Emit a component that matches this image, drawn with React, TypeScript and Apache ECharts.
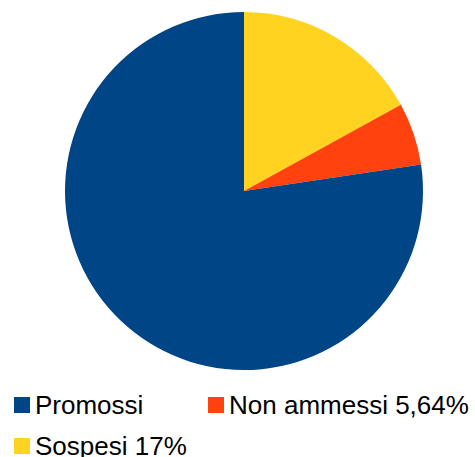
import React, { useEffect, useRef } from "react";
import * as echarts from "echarts";

const categories = ["Sospesi", "Non ammessi", "Promossi"];
const values = [17, 5.64, 77.36];
const legendLabels = ["Sospesi 17%", "Non ammessi 5,64%", "Promossi"];
const colors = ["#ffd320", "#ff420e", "#004586"];

export default function App() {
  const ref = useRef<HTMLDivElement>(null);
  useEffect(() => {
    document.body.style.margin = "0";
    if (!ref.current) return;
    const chart = echarts.init(ref.current, null, { renderer: "svg" });
    const labelMap: Record<string, string> = {};
    categories.forEach((c, i) => (labelMap[c] = legendLabels[i]));
    const legendBase = {
      orient: "horizontal" as const,
      itemWidth: 16,
      itemHeight: 16,
      icon: "rect",
      formatter: (n: string) => labelMap[n],
      textStyle: { fontFamily: "Liberation Sans", fontSize: 26, lineHeight: 26, color: "#000" },
      selectedMode: false,
      padding: 0,
    };
    chart.setOption({
      animation: false,
      color: colors,
      legend: [
        { ...legendBase, data: ["Promossi"], left: 14, top: 392 },
        { ...legendBase, data: ["Non ammessi"], left: 208, top: 392 },
        { ...legendBase, data: ["Sospesi"], left: 14, top: 433 },
      ],
      series: [
        {
          type: "pie",
          center: [244, 191],
          radius: 179,
          startAngle: 90,
          clockwise: true,
          label: { show: false },
          labelLine: { show: false },
          emphasis: { disabled: true },
          itemStyle: { borderWidth: 0 },
          data: categories.map((c, i) => ({ name: c, value: values[i] })),
        },
      ],
    });
    return () => chart.dispose();
  }, []);
  return <div ref={ref} style={{ width: 475, height: 457 }} />;
}
